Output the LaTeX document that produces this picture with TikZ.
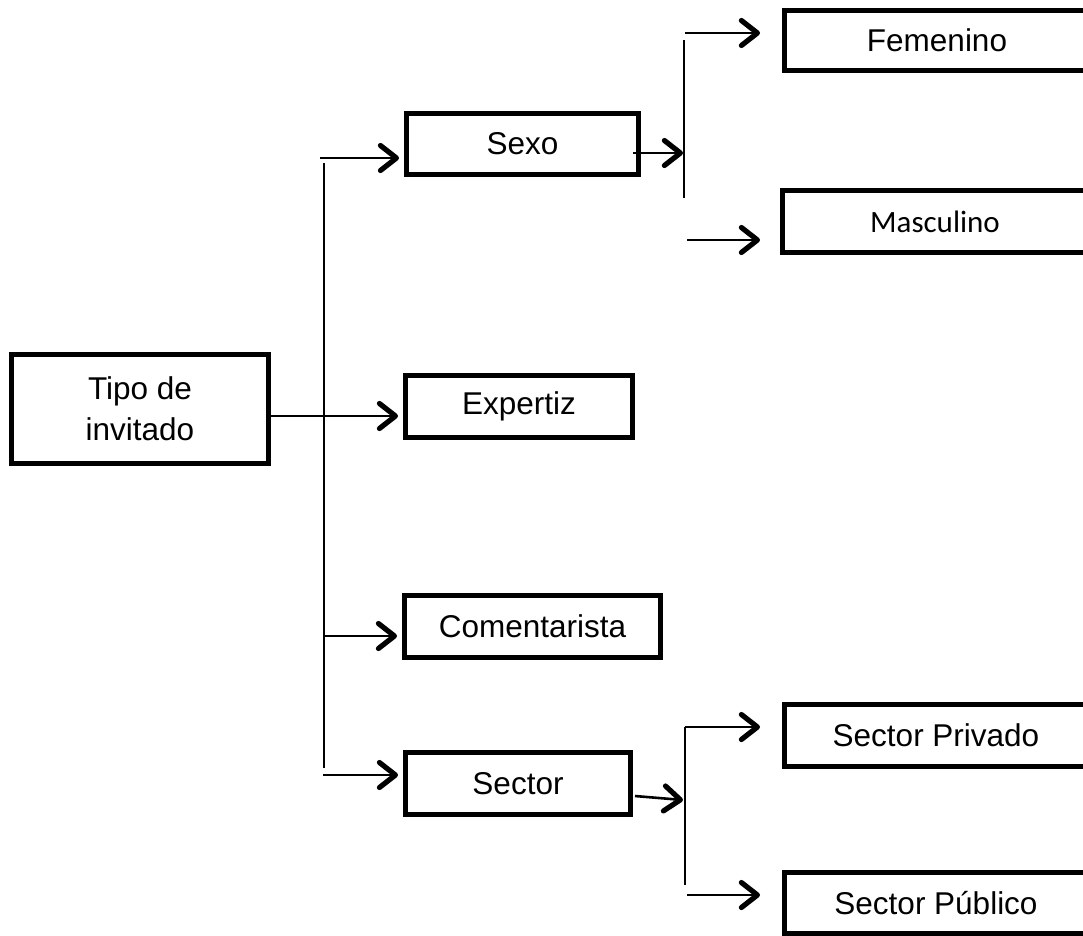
\documentclass[tikz,border=0pt]{standalone}
\usepackage{fontspec}
\setmainfont{Liberation Sans}
\newfontfamily\calib{Carlito}
\usetikzlibrary{arrows.meta}
\begin{document}
\begin{tikzpicture}[x=1pt,y=-1pt,
  box/.style={draw, line width=5.4pt, minimum height=61.5pt, inner sep=0pt,
    font=\fontsize{31.5}{41}\selectfont, align=center},
  conn/.style={line width=2.6pt},
  arr/.style={conn, -{Straight Barb[length=16pt,width=25pt,line width=5.2pt,round]}},
]
\useasboundingbox (0,0) rectangle (1083,935);
\begin{scope}
\clip (0,0) rectangle (1083,935);
\node[box, minimum width=256.5pt, minimum height=108.5pt] (tipo) at (140,409) {Tipo de\\invitado};
\node[box, minimum width=231.5pt, minimum height=60.5pt] (sexo) at (522.5,144) {Sexo};
\node[box, minimum width=226.5pt] (exp) at (519,406.5) {Expertiz};
\node[box, minimum width=255.5pt] (com) at (532.5,626.5) {Comentarista};
\node[box, minimum width=224.5pt] (sec) at (518,783.5) {Sector};
\node[box, minimum width=304.5pt, minimum height=59.5pt] (fem) at (937,40.5) {Femenino};
\node[box, minimum width=304.5pt, font=\calib\fontsize{31}{37}\selectfont] (mas) at (935,221.5) {Masculino};
\node[box, minimum width=302.5pt] (priv) at (936,735.5) {Sector Privado};
\node[box, minimum width=302.5pt] (pub) at (936,903) {Sector Público};
\end{scope}

% main trunk
\coordinate (tA) at (320,158);
\coordinate (tTop) at (324,163);
\coordinate (tBot) at (324,768);
\coordinate (tE) at (324,416);
\coordinate (tC) at (325,636);
\coordinate (tS) at (323,775);
\draw[conn] (tTop) -- (tBot);
\draw[arr, shorten >=5pt] (tA) -- (sexo.west |- tA);
\draw[arr, shorten >=5pt] (tipo.east |- tE) -- (exp.west |- tE);
\draw[arr, shorten >=5pt] (tC) -- (com.west |- tC);
\draw[arr, shorten >=5pt] (tS) -- (sec.west |- tS);

% Sexo branch
\coordinate (sA) at (633,153);
\coordinate (sB) at (683,153);
\coordinate (sTop) at (684,40);
\coordinate (sBot) at (684,198);
\coordinate (fA) at (685,33);
\coordinate (fB) at (760,33);
\coordinate (mA) at (687,240);
\coordinate (mB) at (760,240);
\draw[arr] (sA) -- (sB);
\draw[conn] (sTop) -- (sBot);
\draw[arr] (fA) -- (fB);
\draw[arr] (mA) -- (mB);

% Sector branch
\coordinate (cA) at (635,796);
\coordinate (cB) at (683,800);
\coordinate (cTop) at (685,727);
\coordinate (cBot) at (685,885);
\coordinate (pA) at (685,727);
\coordinate (pB) at (760,727);
\coordinate (uA) at (687,895);
\coordinate (uB) at (760,895);
\draw[arr] (cA) -- (cB);
\draw[conn] (cTop) -- (cBot);
\draw[arr] (pA) -- (pB);
\draw[arr] (uA) -- (uB);
\end{tikzpicture}
\end{document}
